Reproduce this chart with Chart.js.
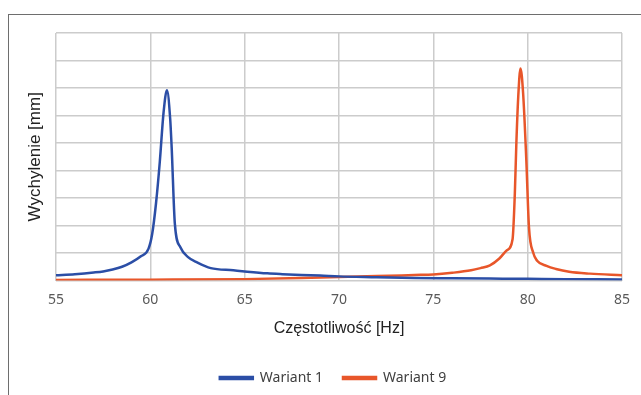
<!DOCTYPE html>
<html>
<head>
<meta charset="utf-8">
<script src="https://cdn.jsdelivr.net/npm/chart.js@4"></script>
<style>
    body { margin: 0; background: #fff; overflow: hidden; }
    .frame { position: absolute; left: 8px; top: 14px; width: 700px; height: 420px; border: 1.5px solid #6e6e6e; }
    .wrap { position: absolute; left: 0; top: 0; width: 641px; height: 395px; }
</style>
</head>
<body>
<div class="frame"></div>
<div class="wrap"><canvas id="resChart" width="641" height="395"></canvas></div>
<script>
// Wariant 1
const freq1 = [55, 56, 57, 57.5, 58, 58.5, 59, 59.5, 59.9, 60.1, 60.3, 60.5, 60.7, 60.88, 61.05, 61.13, 61.3, 61.6, 62, 62.5, 63.2, 64.4, 65, 66.2, 67, 68, 69, 70, 72, 74, 76, 78, 80, 82, 85];
const defl1 = [0.19, 0.23, 0.29, 0.33, 0.40, 0.50, 0.66, 0.88, 1.15, 1.7, 2.8, 4.3, 6.1, 6.92, 5.9, 4.85, 2.06, 1.2, 0.85, 0.65, 0.45, 0.37, 0.33, 0.26, 0.23, 0.2, 0.18, 0.15, 0.12, 0.09, 0.08, 0.07, 0.06, 0.05, 0.04];

// Wariant 9
const freq9 = [55, 60, 65, 68, 70, 72, 74, 75, 76, 77, 77.5, 78, 78.5, 78.9, 79.2, 79.32, 79.4, 79.5, 79.62, 79.76, 79.93, 80.07, 80.3, 80.5, 81, 81.5, 82.2, 83.3, 85];
const defl9 = [0.02, 0.03, 0.05, 0.09, 0.13, 0.16, 0.2, 0.22, 0.28, 0.37, 0.45, 0.55, 0.8, 1.1, 1.5, 3.16, 4.97, 6.67, 7.71, 6.8, 4.36, 1.93, 1.0, 0.72, 0.53, 0.42, 0.32, 0.25, 0.19];

const xTicks = [55, 60, 65, 70, 75, 80, 85];

function toPoints(xs, ys) {
    return xs.map((x, i) => ({ x: x, y: ys[i] }));
}

// przesuniecie legendy na srodek calej ramki
const legendShift = {
    id: "legendShift",
    afterLayout(chart) {
        chart.legend.left += 22;
        chart.legend.right += 22;
    }
};

document.addEventListener("DOMContentLoaded", function () {
    const ctx = document.getElementById("resChart").getContext("2d");
    new Chart(ctx, {
        type: "line",
        data: {
            datasets: [{
                label: "Wariant 1",
                data: toPoints(freq1, defl1),
                borderColor: "#2b4ea6",
                backgroundColor: "#2b4ea6",
                borderWidth: 2.5,
                pointRadius: 0,
                cubicInterpolationMode: "monotone"
            }, {
                label: "Wariant 9",
                data: toPoints(freq9, defl9),
                borderColor: "#e8562a",
                backgroundColor: "#e8562a",
                borderWidth: 2.5,
                pointRadius: 0,
                cubicInterpolationMode: "monotone"
            }]
        },
        options: {
            responsive: false,
            animation: false,
            layout: { padding: { left: 0, right: 19, top: 33, bottom: 0 } },
            plugins: {
                legend: {
                    position: "bottom",
                    labels: {
                        boxWidth: 33,
                        boxHeight: 2,
                        padding: 20,
                        color: "#404040",
                        font: { family: "'Noto Sans'", size: 14 }
                    }
                },
                tooltip: { enabled: false }
            },
            scales: {
                x: {
                    type: "linear",
                    min: 55,
                    max: 85,
                    afterBuildTicks: (scale) => { scale.ticks = xTicks.map(v => ({ value: v })); },
                    grid: { color: "#cccccc", lineWidth: 1.5, drawTicks: false },
                    border: { display: false },
                    ticks: { padding: 11, color: "#595959", font: { family: "'Noto Sans'", size: 14 } },
                    title: {
                        display: true,
                        text: "Częstotliwość [Hz]",
                        color: "#222",
                        padding: { top: 8, bottom: 13 },
                        font: { family: "'Liberation Sans'", size: 16 }
                    },
                    afterFit: (scale) => { scale.height = 70.5; }
                },
                y: {
                    min: 0,
                    max: 9,
                    ticks: { stepSize: 1, display: false },
                    grid: { color: "#cccccc", lineWidth: 1.5, drawTicks: false },
                    border: { display: false },
                    title: {
                        display: true,
                        text: "Wychylenie [mm]",
                        color: "#222",
                        padding: { top: 25, bottom: 0 },
                        font: { family: "'Liberation Sans'", size: 17 }
                    },
                    afterFit: (scale) => { scale.width = 56; }
                }
            }
        },
        plugins: [legendShift]
    });
});
</script>
</body>
</html>
